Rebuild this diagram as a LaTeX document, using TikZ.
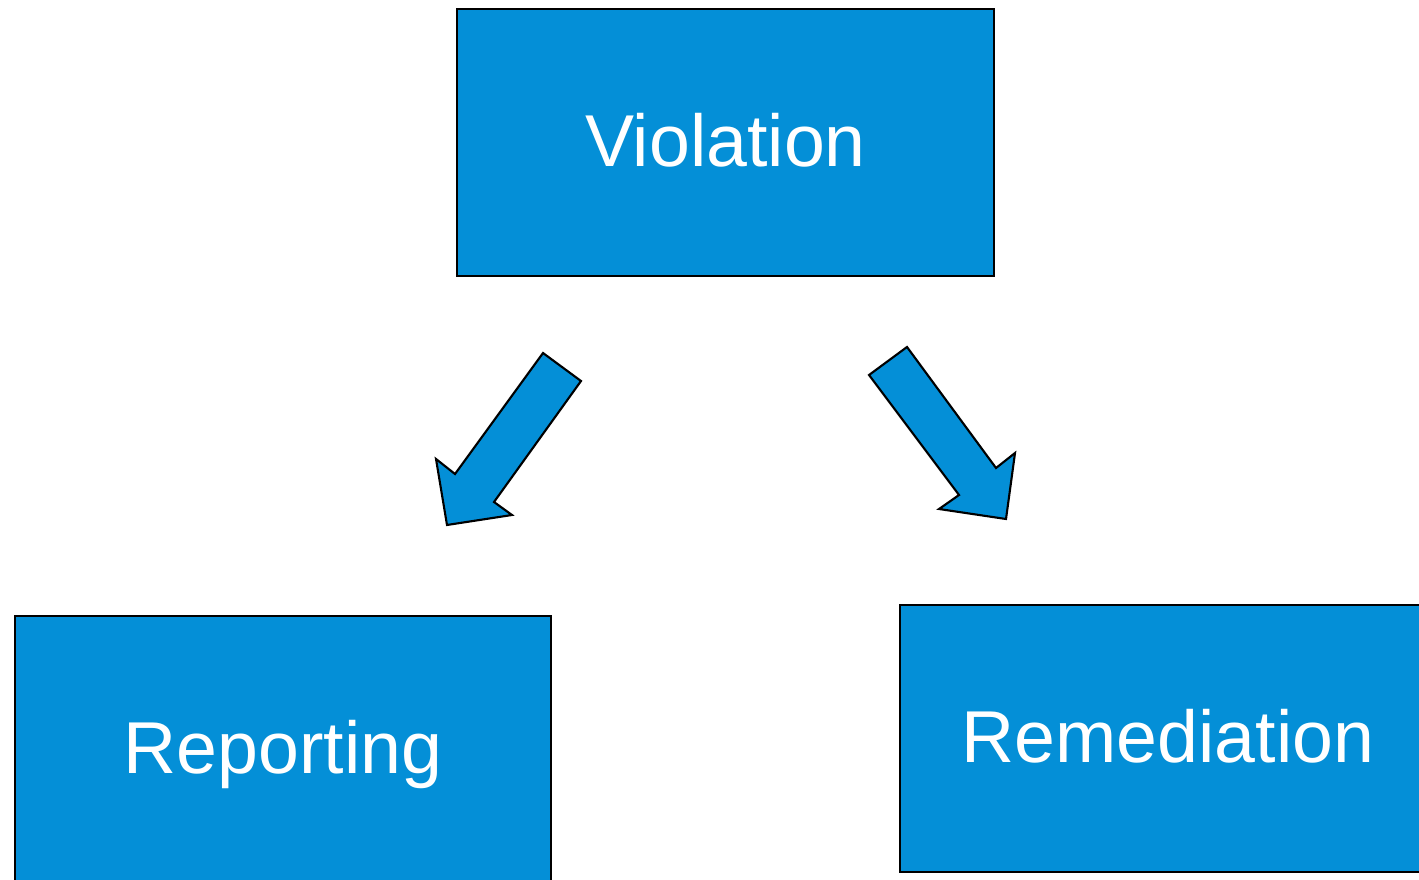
\documentclass[tikz,border=0pt]{standalone}
\usepackage{fontspec}
\setmainfont{Liberation Sans}
\usepackage{tikz}
\definecolor{boxblue}{HTML}{048FD7}
\tikzset{
    stage/.style={shape=rectangle, draw=black, fill=boxblue, line width=0.6pt,
        minimum width=5.36cm, minimum height=2.67cm, text=white,
        font=\fontsize{20.9pt}{25pt}\selectfont, text height=0.47cm, text depth=0pt},
    blockarrow/.style={draw=black, fill=boxblue, line width=0.6pt, line join=miter}}

\begin{document}
\begin{tikzpicture}[x=0.01cm, y=-0.01cm]

            \clip (0,0) rectangle (1419,879);

            \node[stage] (V) at (725.5,142.5) {Violation};
            \node[stage] (P) at (283,749.5) {Reporting};
            \node[stage] (R) at (1168,738.5) {Remediation};

            % block arrows from the top box down to each side
            \draw[blockarrow] (543,353) -- (581,381) -- (494,502) -- (512,515)
                -- (447,525) -- (436,459) -- (455,474) -- cycle;
            \draw[blockarrow] (907,347) -- (869,375) -- (959,495) -- (939,509)
                -- (1006,519) -- (1015,453) -- (996,468) -- cycle;

        \end{tikzpicture}
\end{document}
